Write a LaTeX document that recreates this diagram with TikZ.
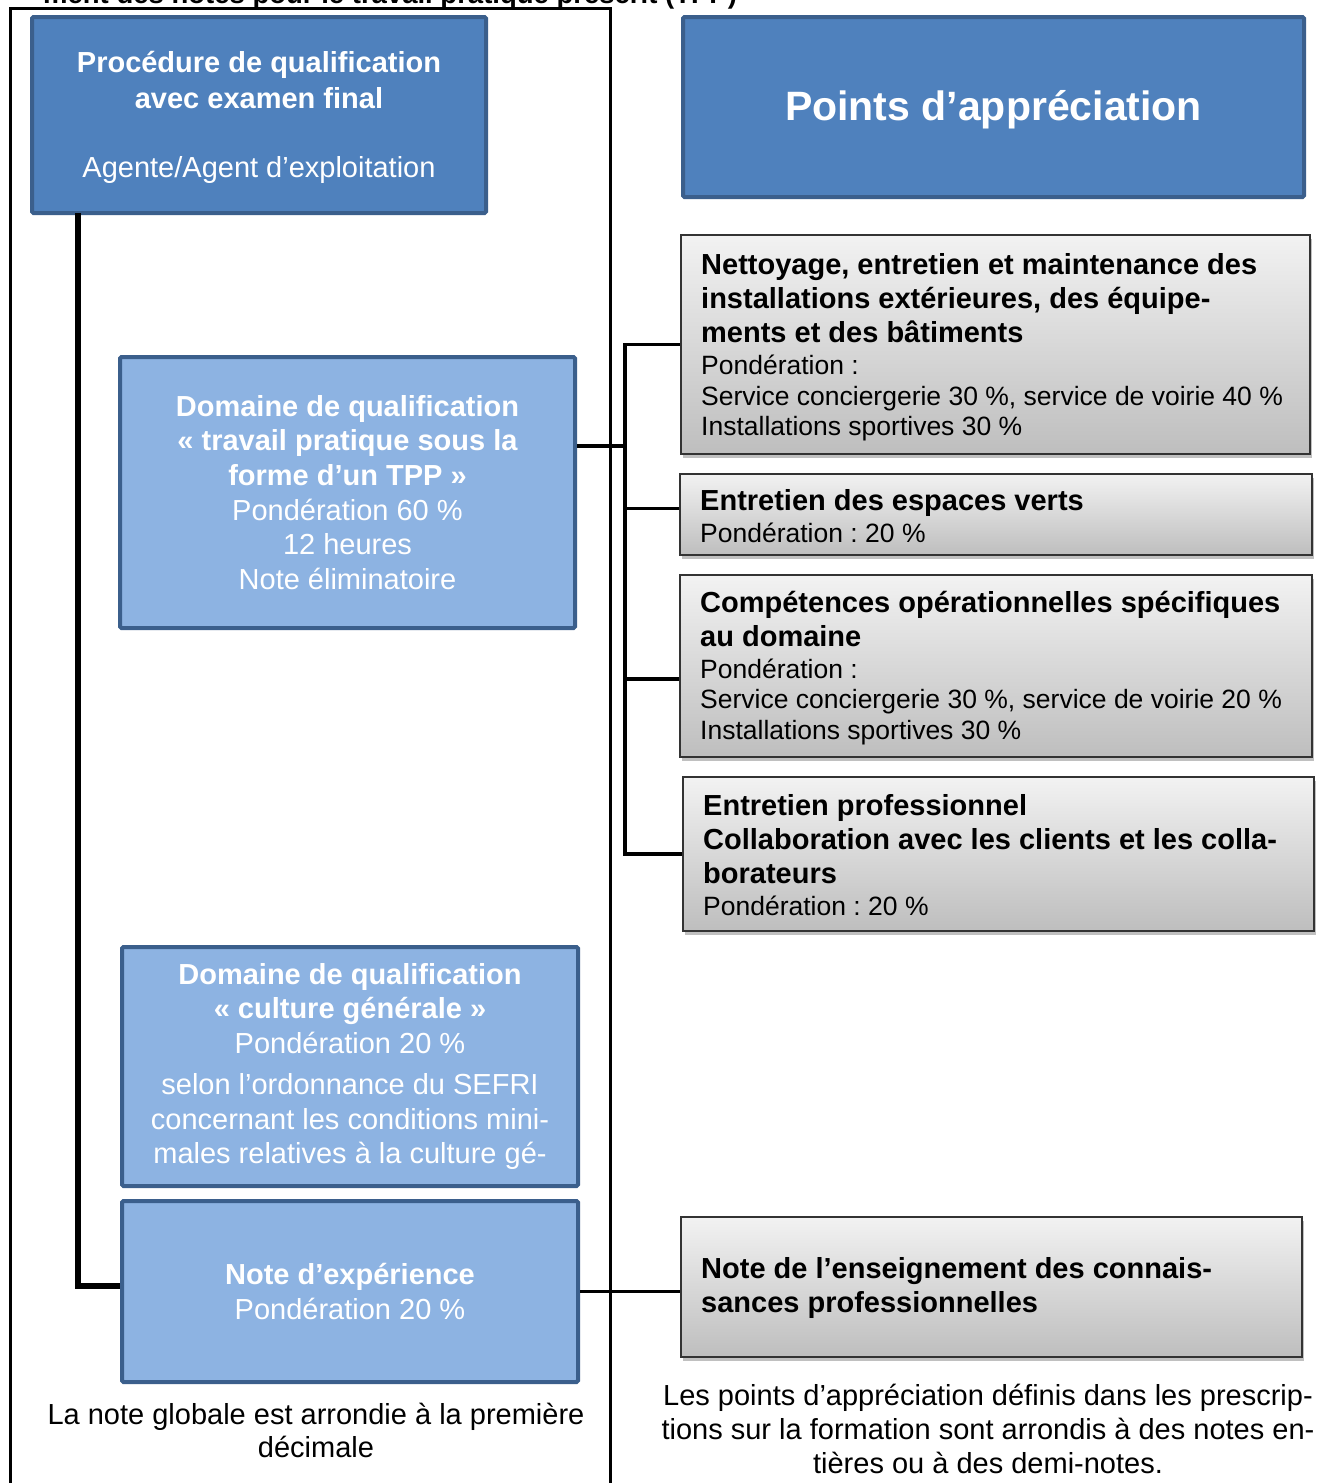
\documentclass[tikz,border=0pt]{standalone}
\usepackage{fontspec}
\setmainfont{Liberation Sans}
\frenchspacing
\usetikzlibrary{shadows,calc}
\definecolor{darkblue}{HTML}{4F81BD}
\definecolor{lightblue}{HTML}{8DB3E2}
\definecolor{bordblue}{HTML}{3B5F8C}
\definecolor{graytop}{HTML}{F2F2F2}
\definecolor{graybot}{HTML}{BEBEBE}
\newcommand\hdB{\fontsize{29}{34.5}\selectfont\bfseries}
\newcommand\hdR{\fontsize{29}{34.5}\selectfont\mdseries}
\newcommand\smR{\fontsize{26.5}{30.5}\selectfont\mdseries}
\begin{document}
\begin{tikzpicture}[x=1pt,y=-1pt,
  bluebase/.style={draw=bordblue, line width=4pt, rounded corners=1.5pt, anchor=north west,
    inner sep=0pt, text=white, align=center},
  darkbox/.style={bluebase, fill=darkblue},
  lightbox/.style={bluebase, fill=lightblue},
  whitetext/.style={inner sep=0pt, text=white, align=center},
  graybox/.style={draw=black!80, line width=1.8pt, top color=graytop, bottom color=graybot,
    drop shadow={shadow xshift=2pt, shadow yshift=-4pt, opacity=0.35, fill=black!70},
    anchor=north west, inner sep=0pt},
  graytext/.style={anchor=west, inner sep=0pt, align=left, font=\smR},
  conn/.style={line width=3.5pt},
  trunkline/.style={line width=6pt},
  frameline/.style={line width=3pt},
  note/.style={inner sep=0pt, align=center, font=\hdR}
]
\useasboundingbox (0,0) rectangle (1336,1483);
\fill[white] (0,0) rectangle (1336,1483);
\clip (0,0) rectangle (1336,1483);

% heading at the very top, cut by the page edge as in the reference
\node[anchor=base west, inner sep=0pt, font=\fontsize{27.5}{32}\selectfont\bfseries] (head) at (43,3)
  {ment des notes pour le travail pratique prescrit (TPP)};

% outer frame
\draw[frameline] (10,8) rectangle (610,1520);

% blue boxes
\node[darkbox, minimum width=454pt, minimum height=196pt] (proc) at (30,15) {};
\node[whitetext, font=\fontsize{29}{36}\selectfont, yshift=-2pt] (proctext) at (proc.center)
  {\hdB Procédure de qualification\\ \hdB avec examen final\\[33pt] \hdR Agente/Agent d’exploitation};
\node[darkbox, minimum width=621pt, minimum height=180pt] (points) at (681,15) {};
\node[whitetext, font=\fontsize{41}{48}\selectfont\bfseries, yshift=-3pt] (pointstext) at (points.center)
  {Points d’appréciation};
\node[lightbox, minimum width=455pt, minimum height=271pt, font=\fontsize{29}{34.6}\selectfont] (tpp) at (118,355)
  {\hdB Domaine de qualification\\ \hdB « travail pratique sous la\\ \hdB forme d’un TPP »\\ \hdR Pondération 60 \%\\ \hdR 12 heures\\ \hdR Note éliminatoire};
\node[lightbox, minimum width=456pt, minimum height=239pt, font=\fontsize{29}{34.5}\selectfont] (cult) at (120,945)
  {\hdB Domaine de qualification\\ \hdB « culture générale »\\ \hdR Pondération 20 \%\\[7pt] \hdR selon l’ordonnance du SEFRI\\ \hdR concernant les conditions mini-\\ \hdR males relatives à la culture gé-};
\node[lightbox, minimum width=456pt, minimum height=181pt, font=\fontsize{29}{35}\selectfont] (nexp) at (120,1199)
  {\hdB Note d’expérience\\ \hdR Pondération 20 \%};

% gray boxes
\node[graybox, minimum width=629pt, minimum height=219pt] (g1) at (680,234) {};
\node[graybox, minimum width=632pt, minimum height=81pt] (g2) at (679,473) {};
\node[graybox, minimum width=632pt, minimum height=182pt] (g3) at (679,574) {};
\node[graybox, minimum width=631pt, minimum height=154pt] (g4) at (682,776) {};
\node[graybox, minimum width=621pt, minimum height=140pt] (g5) at (680,1216) {};

\node[graytext] (t1) at ($(g1.west)+(21,3)$)
  {\fontsize{29}{34}\selectfont\bfseries Nettoyage, entretien et maintenance des\\[3.5pt]
   \fontsize{29}{34}\selectfont\bfseries installations extérieures, des équipe-\\[3.5pt]
   \fontsize{29}{34}\selectfont\bfseries ments et des bâtiments\\[1.5pt]
   \smR Pondération :\\
   \smR Service conciergerie 30 \%, service de voirie 40 \%\\
   \smR Installations sportives 30 \%};
\node[graytext] (t2) at ($(g2.west)+(21,2)$)
  {\fontsize{29}{34}\selectfont\bfseries Entretien des espaces verts\\[1.5pt]
   \smR Pondération : 20 \%};
\node[graytext] (t3) at ($(g3.west)+(21,2)$)
  {\fontsize{29}{34}\selectfont\bfseries Compétences opérationnelles spécifiques\\[3.5pt]
   \fontsize{29}{34}\selectfont\bfseries au domaine\\[1.5pt]
   \smR Pondération :\\
   \smR Service conciergerie 30 \%, service de voirie 20 \%\\
   \smR Installations sportives 30 \%};
\node[graytext] (t4) at ($(g4.west)+(21,1)$)
  {\fontsize{29}{34}\selectfont\bfseries Entretien professionnel\\[3.5pt]
   \fontsize{29}{34}\selectfont\bfseries Collaboration avec les clients et les colla-\\[3.5pt]
   \fontsize{29}{34}\selectfont\bfseries borateurs\\[1.5pt]
   \smR Pondération : 20 \%};
\node[graytext] (t5) at ($(g5.west)+(21,1)$)
  {\fontsize{29}{34}\selectfont\bfseries Note de l’enseignement des connais-\\[3.5pt]
   \fontsize{29}{34}\selectfont\bfseries sances professionnelles};

% notes below
\node[note, font=\fontsize{29}{33}\selectfont] (noteL) at (316,1430)
  {La note globale est arrondie à la première\\ décimale};
\node[note, font=\fontsize{29}{34}\selectfont] (noteR) at (988,1429)
  {Les points d’appréciation définis dans les prescrip-\\ tions sur la formation sont arrondis à des notes en-\\ tières ou à des demi-notes.};

% connectors
\coordinate (trunk) at (78,213);
\coordinate (expin) at ([yshift=6pt]nexp.west);
\draw[trunkline] (trunk) |- (expin);

\coordinate (br) at (625,446);
\draw[conn] (br -| tpp.east) -- (br);
\draw[conn] (g1.west) -| (br) |- (g4.west);
\coordinate (g2in) at ([yshift=6pt]g2.west);
\coordinate (g3in) at ([yshift=-13pt]g3.west);
\draw[conn] (g2in) -- (g2in -| br);
\draw[conn] (g3in) -- (g3in -| br);
\draw[conn] (nexp.east) -- (nexp.east -| g5.west);
\end{tikzpicture}
\end{document}
